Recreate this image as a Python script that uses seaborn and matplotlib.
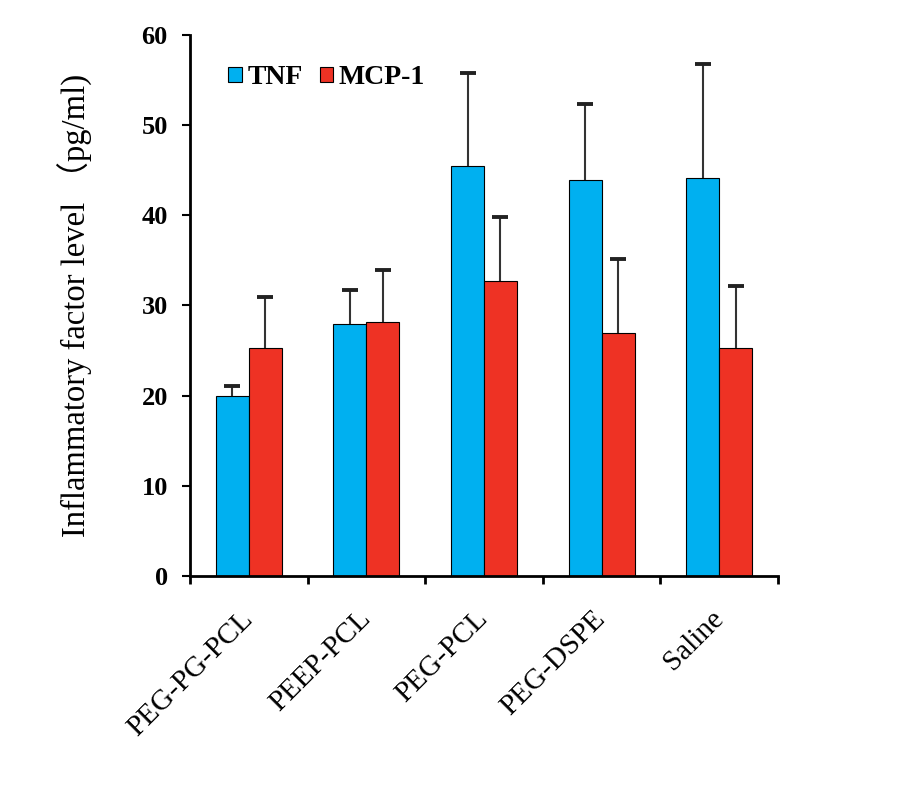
import numpy as np
import pandas as pd
import seaborn as sns
import matplotlib.pyplot as plt

groups = ['PEG-PG-PCL', 'PEEP-PCL', 'PEG-PCL', 'PEG-DSPE', 'Saline']
tnf_mean = [20.0, 27.9, 45.5, 43.9, 44.1]
tnf_err = [1.1, 3.8, 10.3, 8.4, 12.7]
mcp_mean = [25.3, 28.2, 32.7, 27.0, 25.3]
mcp_err = [5.6, 5.7, 7.1, 8.2, 6.9]
series = ['TNF', 'MCP-1']
colors = ['#00B0F0', '#EE3224']

df = pd.DataFrame({
    'group': groups * 2,
    'factor': ['TNF'] * 5 + ['MCP-1'] * 5,
    'value': tnf_mean + mcp_mean,
})

sns.set_style('white')
plt.rcParams['font.family'] = ['Liberation Serif', 'Noto Sans CJK SC']
for k in ['text.color', 'axes.labelcolor', 'xtick.color', 'ytick.color']:
    plt.rcParams[k] = 'black'

fig = plt.figure(figsize=(9.08, 7.97), dpi=100)
ax = fig.add_axes([0.2093, 0.2773, 0.6475, 0.6788])

sns.barplot(data=df, x='group', y='value', hue='factor', hue_order=series,
            palette=colors, order=groups, width=0.56, errorbar=None,
            edgecolor='black', linewidth=0.8, saturation=1, ax=ax)

# one-sided error bars, cap only at the top
for cont, errs in zip(ax.containers, [tnf_err, mcp_err]):
    xs = np.array([p.get_x() + p.get_width() / 2 for p in cont])
    ys = np.array([p.get_height() for p in cont])
    ax.errorbar(xs, ys, yerr=[np.zeros(len(errs)), errs], fmt='none',
                ecolor='#333333', elinewidth=1.5, capsize=0, zorder=1)
    ax.plot(xs, ys + np.array(errs), ls='none', marker='_', ms=12, mew=2.8,
            color='#222222', zorder=1)

ax.set_ylim(0, 60)
ax.set_xlim(-0.5, 4.5)
ax.set_yticks(range(0, 61, 10))
ax.set_yticklabels([str(v) for v in range(0, 61, 10)], fontsize=19, fontweight='bold')
ax.set_xticks(range(5))
ax.set_xticklabels(groups, rotation=45, ha='right', va='center',
                   rotation_mode='anchor', fontsize=21)
ax.set_xticks(np.arange(-0.5, 5, 1), minor=True)
ax.tick_params(axis='x', which='major', length=0, pad=28)
ax.tick_params(axis='x', which='minor', length=6, width=2, direction='out', bottom=True)
ax.tick_params(axis='y', length=6, width=1.5, direction='out', left=True, pad=10)

for s in ['top', 'right']:
    ax.spines[s].set_visible(False)
for s in ['left', 'bottom']:
    ax.spines[s].set_linewidth(2)
    ax.spines[s].set_color('black')

ax.set_xlabel('')
ax.set_ylabel('Inflammatory factor level （pg/ml)', fontsize=23.5, labelpad=35)

leg = ax.legend(loc='upper left', bbox_to_anchor=(0.0646, 0.944), ncol=2, frameon=False,
                prop={'family': 'Liberation Serif', 'weight': 'bold', 'size': 20},
                borderpad=0, borderaxespad=0,
                handlelength=0.5, handleheight=0.5, handletextpad=0.2, columnspacing=0.6)

fig.savefig('out.png', dpi=100)
